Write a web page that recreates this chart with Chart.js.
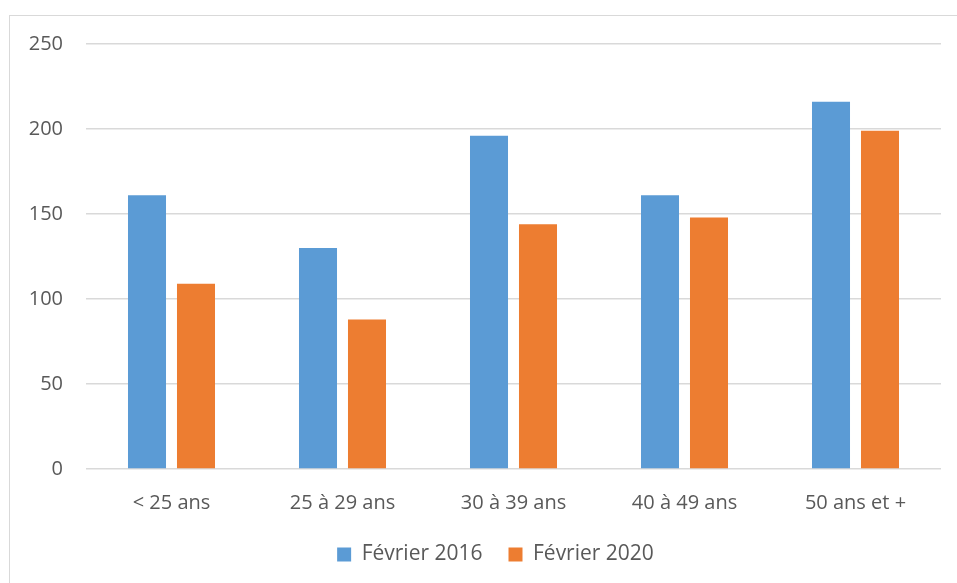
<!DOCTYPE html>
<html>
<head>
<meta charset="utf-8">
<script src="https://cdn.jsdelivr.net/npm/chart.js@4"></script>
<style>
    body { margin: 0; background: #fff; overflow: hidden; }
    #frame {
        position: absolute; left: 9px; top: 15px;
        width: 1000px; height: 1000px;
        border: 1px solid #d9d9d9;
    }
    #wrap { position: absolute; left: 0; top: 0; width: 957px; height: 583px; }
</style>
</head>
<body>
<div id="frame"></div>
<div id="wrap"><canvas id="barChart" width="957" height="583"></canvas></div>
<script>
// Age groups and the two series
const categories = ["< 25 ans", "25 à 29 ans", "30 à 39 ans", "40 à 49 ans", "50 ans et +"];
const fevrier2016 = [161, 130, 196, 161, 216];
const fevrier2020 = [109, 88, 144, 148, 199];
const yTicks = [0, 50, 100, 150, 200, 250];

const textColor = "#595959";
const font = { family: "'Open Sans', 'Noto Sans', sans-serif", size: 20 };

// Excel centres the legend a little left of the plot: nudge it after layout
const legendShift = {
    id: "legendShift",
    afterLayout: (chart) => {
        chart.legend.left += 20;
        chart.legend.right += 20;
    }
};

// Create bar chart
const createBarChart = (elementId) => {
    var ctx = document.getElementById(elementId).getContext("2d");
    var chart = new Chart(ctx, {
        type: "bar",
        data: {
            labels: categories,
            datasets: [{
                label: "Février 2016",
                data: fevrier2016,
                backgroundColor: "#5B9BD5"
            }, {
                label: "Février 2020",
                data: fevrier2020,
                backgroundColor: "#ED7D31"
            }]
        },
        plugins: [legendShift],
        options: {
            responsive: false,
            animation: false,
            categoryPercentage: 0.573,
            barPercentage: 0.776,
            layout: {
                padding: { left: 10, right: 16, top: 44, bottom: 8 }
            },
            plugins: {
                tooltip: { enabled: false },
                legend: {
                    position: "bottom",
                    labels: {
                        color: textColor,
                        font: { family: font.family, size: 21 },
                        boxWidth: 14,
                        boxHeight: 14,
                        padding: 26
                    }
                }
            },
            scales: {
                x: {
                    grid: { display: false },
                    border: { display: false },
                    ticks: { color: textColor, font: font, padding: 14, maxRotation: 0 },
                    afterFit: (scale) => { scale.height = 49; }
                },
                y: {
                    min: 0,
                    max: 250,
                    afterBuildTicks: (scale) => { scale.ticks = yTicks.map(v => ({ value: v })); },
                    grid: { color: "#d9d9d9", lineWidth: 1.5, drawTicks: false },
                    border: { display: false },
                    ticks: { color: textColor, font: font, padding: 23 },
                    afterFit: (scale) => { scale.width = 76; }
                }
            }
        }
    });
}

createBarChart("barChart");
</script>
</body>
</html>
